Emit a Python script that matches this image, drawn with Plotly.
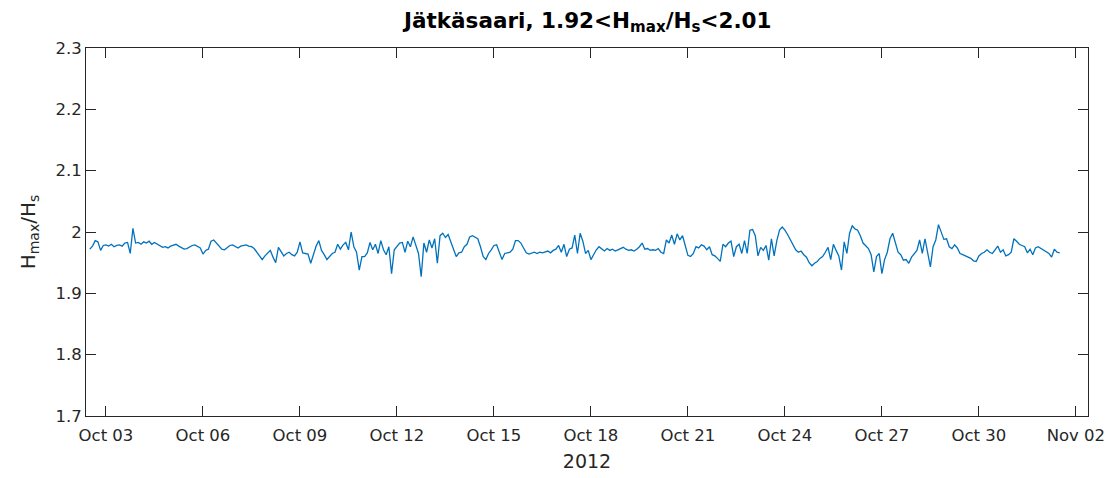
import pandas as pd
import plotly.graph_objects as go

# Hmax/Hs every 2 hours (Oct 2 12:00 -> Nov 1 12:00)
start_time = "2012-10-02 12:00"
step = "2h"

oct02 = [1.972, 1.977, 1.986, 1.984, 1.970, 1.978]
oct03 = [1.979, 1.977, 1.980, 1.976, 1.978, 1.979, 1.977, 1.982, 1.983, 1.965, 2.006, 1.982]
oct04 = [1.983, 1.980, 1.984, 1.982, 1.985, 1.980, 1.983, 1.980, 1.978, 1.975, 1.976, 1.974]
oct05 = [1.977, 1.979, 1.980, 1.977, 1.974, 1.972, 1.973, 1.976, 1.978, 1.979, 1.977, 1.974]
oct06 = [1.964, 1.970, 1.972, 1.985, 1.987, 1.982, 1.977, 1.972, 1.971, 1.975, 1.978, 1.979]
oct07 = [1.976, 1.974, 1.977, 1.978, 1.979, 1.977, 1.976, 1.973, 1.967, 1.959, 1.955, 1.961]
oct08 = [1.965, 1.970, 1.959, 1.950, 1.975, 1.967, 1.961, 1.965, 1.967, 1.963, 1.961, 1.967]
oct09 = [1.984, 1.966, 1.965, 1.964, 1.949, 1.965, 1.977, 1.986, 1.970, 1.963, 1.955, 1.960]
oct10 = [1.965, 1.967, 1.980, 1.972, 1.979, 1.983, 1.971, 2.000, 1.976, 1.967, 1.938, 1.960]
oct11 = [1.960, 1.966, 1.983, 1.971, 1.980, 1.965, 1.986, 1.971, 1.963, 1.976, 1.932, 1.971]
oct12 = [1.976, 1.982, 1.983, 1.967, 1.985, 1.976, 1.992, 1.979, 1.965, 1.927, 1.982, 1.967]
oct13 = [1.987, 1.974, 1.989, 1.949, 1.994, 1.998, 1.991, 1.996, 1.982, 1.972, 1.960, 1.966]
oct14 = [1.967, 1.976, 1.980, 1.992, 1.994, 1.991, 1.989, 1.976, 1.960, 1.955, 1.965, 1.971]
oct15 = [1.978, 1.979, 1.967, 1.955, 1.965, 1.966, 1.967, 1.972, 1.986, 1.986, 1.982, 1.974]
oct16 = [1.966, 1.964, 1.965, 1.967, 1.965, 1.967, 1.966, 1.967, 1.969, 1.966, 1.970, 1.972]
oct17 = [1.978, 1.967, 1.980, 1.960, 1.972, 1.974, 1.995, 1.965, 1.998, 1.985, 1.965, 1.970]
oct18 = [1.955, 1.963, 1.971, 1.976, 1.973, 1.969, 1.973, 1.970, 1.972, 1.969, 1.971, 1.973]
oct19 = [1.975, 1.972, 1.970, 1.971, 1.969, 1.972, 1.976, 1.982, 1.972, 1.973, 1.970, 1.971]
oct20 = [1.970, 1.973, 1.967, 1.965, 1.987, 1.982, 1.995, 1.980, 1.997, 1.987, 1.994, 1.978]
oct21 = [1.962, 1.960, 1.965, 1.976, 1.974, 1.979, 1.977, 1.971, 1.976, 1.963, 1.961, 1.957]
oct22 = [1.952, 1.980, 1.976, 1.982, 1.985, 1.960, 1.976, 1.980, 1.965, 1.986, 1.965, 2.003]
oct23 = [2.004, 1.994, 1.961, 1.975, 1.970, 1.978, 1.954, 1.989, 1.961, 1.986, 2.003, 2.008]
oct24 = [2.003, 1.996, 1.988, 1.978, 1.971, 1.967, 1.969, 1.963, 1.959, 1.950, 1.945, 1.949]
oct25 = [1.952, 1.957, 1.960, 1.967, 1.975, 1.955, 1.980, 1.970, 1.961, 1.938, 1.984, 1.965]
oct26 = [1.998, 2.010, 2.005, 2.003, 1.994, 1.982, 1.977, 1.973, 1.963, 1.935, 1.960, 1.965]
oct27 = [1.932, 1.955, 1.967, 1.989, 1.998, 1.982, 1.967, 1.963, 1.954, 1.955, 1.949, 1.959]
oct28 = [1.965, 1.970, 1.987, 1.965, 1.989, 1.965, 1.943, 1.976, 1.987, 2.012, 2.001, 1.988]
oct29 = [1.989, 1.976, 1.973, 1.979, 1.974, 1.965, 1.963, 1.961, 1.960, 1.957, 1.953, 1.952]
oct30 = [1.961, 1.965, 1.967, 1.971, 1.967, 1.965, 1.971, 1.977, 1.967, 1.971, 1.961, 1.963]
oct31 = [1.967, 1.989, 1.985, 1.980, 1.978, 1.976, 1.966, 1.972, 1.963, 1.974, 1.976, 1.973]
nov01 = [1.970, 1.967, 1.965, 1.959, 1.972, 1.967, 1.966]

ratio = (oct02 + oct03 + oct04 + oct05 + oct06 + oct07 + oct08 + oct09 + oct10 + oct11
         + oct12 + oct13 + oct14 + oct15 + oct16 + oct17 + oct18 + oct19 + oct20 + oct21
         + oct22 + oct23 + oct24 + oct25 + oct26 + oct27 + oct28 + oct29 + oct30 + oct31 + nov01)
times = pd.date_range(start_time, periods=len(ratio), freq=step)

AX = "#262626"
FONT = "DejaVu Sans"

fig = go.Figure(
    go.Scatter(x=times, y=ratio, mode="lines", line=dict(color="#0072BD", width=1.3), showlegend=False)
)

fig.update_layout(
    width=1109,
    height=478,
    margin=dict(l=86, r=21, t=48, b=62),
    paper_bgcolor="white",
    plot_bgcolor="white",
    font=dict(family=FONT, size=16.5, color=AX),
    title=dict(
        text="<b>Jätkäsaari, 1.92&lt;H<sub>max</sub>/H<sub>s</sub>&lt;2.01</b>",
        x=0.53,
        xanchor="center",
        y=0.958,
        yanchor="middle",
        font=dict(family=FONT, size=21.5, color="black"),
    ),
)

fig.update_xaxes(
    range=["2012-10-02 09:10", "2012-11-02 09:00"],
    tick0="2012-10-03",
    dtick=3 * 86400000,
    tickformat="%b %d",
    ticks="inside",
    ticklen=10,
    tickcolor=AX,
    ticklabelstandoff=4,
    showline=True,
    linecolor=AX,
    linewidth=1,
    mirror="allticks",
    showgrid=False,
    zeroline=False,
    automargin=False,
    title=dict(text="2012", font=dict(size=19), standoff=10),
)

fig.update_yaxes(
    range=[1.7, 2.3],
    dtick=0.1,
    ticks="inside",
    ticklen=10,
    tickcolor=AX,
    showline=True,
    linecolor=AX,
    linewidth=1,
    mirror="allticks",
    showgrid=False,
    zeroline=False,
    automargin=False,
    title=dict(text="H<sub>max</sub>/H<sub>s</sub>", font=dict(size=20), standoff=14),
)

# drop the browser's default body margin so the figure fills the window exactly
fig.write_html(
    "out.html",
    config={"displayModeBar": False},
    post_script="document.body.style.margin = '0';",
)
